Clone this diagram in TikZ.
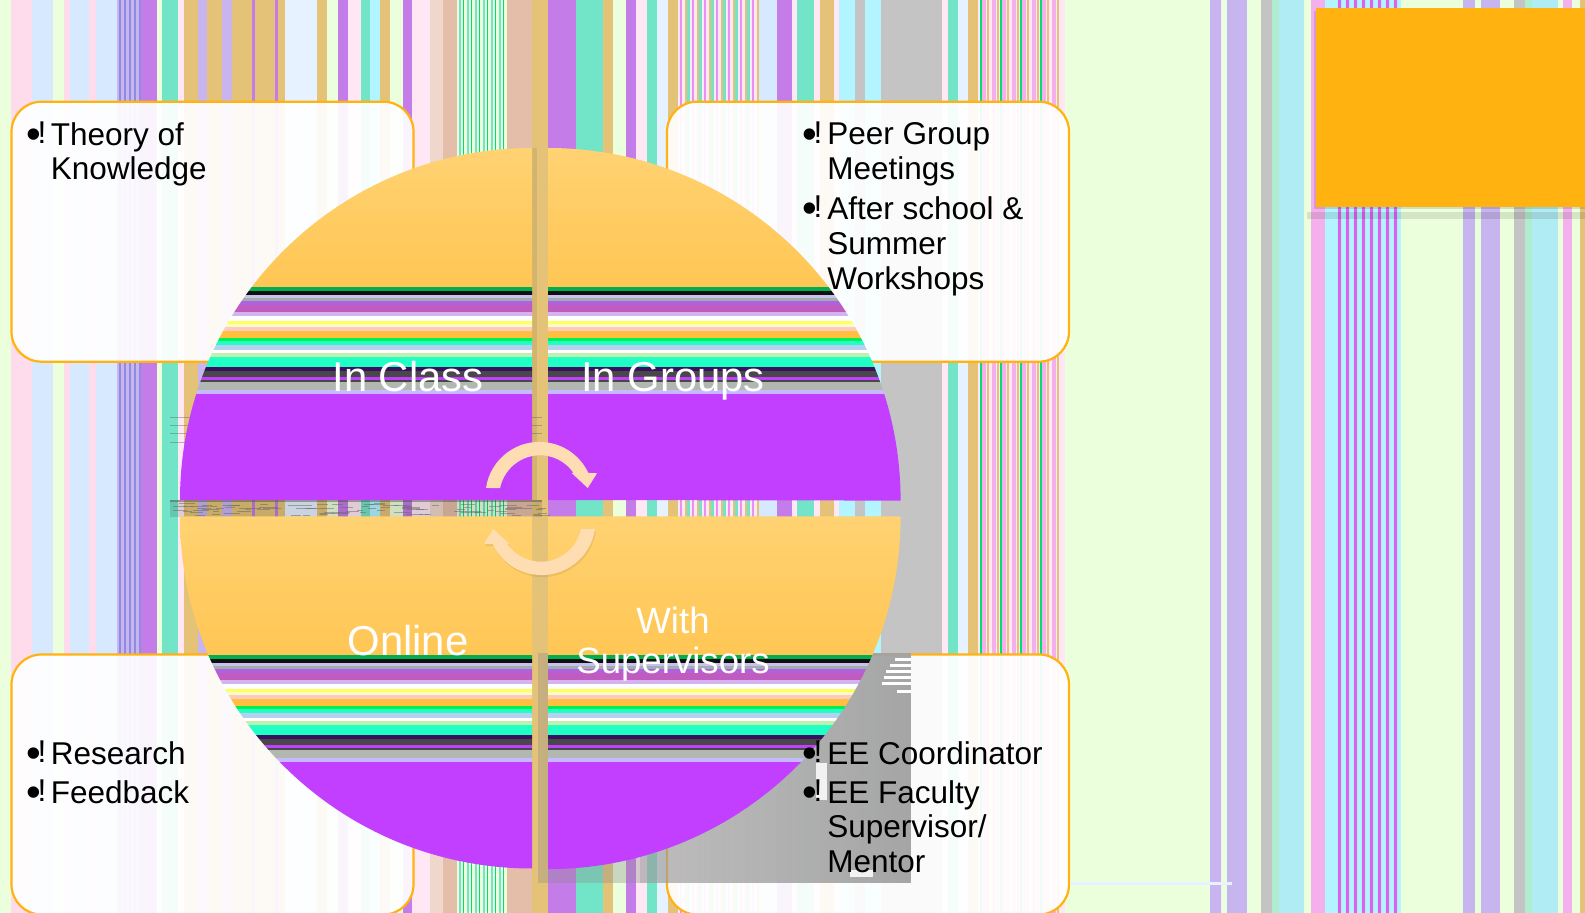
\documentclass[tikz,border=0pt]{standalone}
\usepackage{fontspec}
\setmainfont{Liberation Sans}
\usepackage{tikz}
\usetikzlibrary{positioning, calc, fadings}
\definecolor{bandlime}{HTML}{EBFFDC}
\definecolor{bandpink}{HTML}{FFDCEC}
\definecolor{bandpale}{HTML}{FFE8F4}
\definecolor{bandsky}{HTML}{D6E9FF}
\definecolor{bandice}{HTML}{E6F2FF}
\definecolor{bandblue}{HTML}{8C8CE0}
\definecolor{bandplum}{HTML}{C47CE8}
\definecolor{bandteal}{HTML}{72E4C8}
\definecolor{bandtan}{HTML}{E4C278}
\definecolor{bandpeach}{HTML}{E4BEA8}
\definecolor{bandcyan}{HTML}{B2F4FF}
\definecolor{bandgray}{HTML}{C4C4C4}
\definecolor{bandlav}{HTML}{C8B4EE}
\definecolor{bandmint}{HTML}{B0ECD0}
\definecolor{bandaqua}{HTML}{B0ECF4}
\definecolor{bandrose}{HTML}{F4B0EC}
\definecolor{bandmag}{HTML}{E060F0}
\definecolor{bandgreen}{HTML}{00E070}
\definecolor{boxorange}{HTML}{FFB210}
\definecolor{topamber}{HTML}{FFD272}
\definecolor{lowamber}{HTML}{FFC654}
\definecolor{violet}{HTML}{C23FFF}
\definecolor{arrowcream}{HTML}{FFDDB2}
\definecolor{s1}{HTML}{00B050}
\definecolor{s2}{HTML}{101010}
\definecolor{s3}{HTML}{C8C0F0}
\definecolor{s4}{HTML}{A0B0A8}
\definecolor{s5}{HTML}{B060E0}
\definecolor{s6}{HTML}{C05CC0}
\definecolor{s7}{HTML}{D4B4F0}
\definecolor{s8}{HTML}{FFFF60}
\definecolor{s9}{HTML}{F4FFC0}
\definecolor{s10}{HTML}{FFC8C0}
\definecolor{s11}{HTML}{FFC040}
\definecolor{s12}{HTML}{00F050}
\definecolor{s13}{HTML}{20FFC4}
\definecolor{s14}{HTML}{B8D0F0}
\definecolor{s15}{HTML}{C0F0B0}
\definecolor{s16}{HTML}{3C1060}
\definecolor{s17}{HTML}{484848}
\definecolor{s18}{HTML}{B0B8B0}
\definecolor{s19}{HTML}{C8B8FF}
\tikzfading[name=ghostfade, left color=transparent!55, right color=transparent!5]
\tikzset{
infobox/.style={%
    rectangle,
    minimum width=201pt,
    minimum height=130pt,
    rounded corners=15pt,
    draw=boxorange,
    line width=1.1pt,
    fill=white,
    fill opacity=.93,
    draw opacity=1,
},
itemtext/.style={%
    inner sep=0pt,
    anchor=north west,
    align=left,
    font=\fontsize{15.75}{17.35}\selectfont,
},
bulletmark/.style={%
    inner sep=0pt,
    anchor=base west,
    font=\fontsize{15.75}{17.35}\selectfont,
},
sectorlabel/.style={%
    text=white,
    align=center,
    font=\fontsize{20.9}{24}\selectfont,
},
smalllabel/.style={%
    sectorlabel,
    font=\fontsize{18.3}{20}\selectfont,
},
}
\newcommand{\sectorbands}[1]{%
    \shade[top color=topamber,bottom color=lowamber] (170,148+#1) rectangle (920,287.5+#1);
    \foreach \ya/\yb/\col in {287.5/291/s1,291/295/s2,295/298/s3,298/301/s4,301/305/s5,305/312/s6,
        312/316/s7,316/321/white,321/324/s8,324/327/s9,327/331/s10,331/338/s11,338/341/s12,
        341/345/s13,345/350/s14,350/353/white,353/357/s15,357/367/s13,367/371/s16,371/377/s17,
        377/380/violet,380/382/s17,382/390/s18,390/394/s19,394/520/violet}
        \fill[\col] (170,\ya+#1) rectangle (920,\yb+#1);
}
\begin{document}
\begin{tikzpicture}[x=0.5pt,y=0.5pt,yscale=-1]
	\useasboundingbox (0,0) rectangle (1585,913);
	% background bands
	\fill[bandpale] (0,0) rectangle (1585,913);
	\foreach \xa/\xb/\col in {0/11/bandlime,11/32/bandpink,32/53/bandsky,53/64/bandlime,64/70/bandpink,
		70/89/bandsky,89/96/bandpink,96/117/bandsky,117/141/bandlav,141/157/bandplum,157/162/bandlime,
		162/178/bandteal,184/198/bandtan,198/207/bandlav,207/222/bandtan,222/232/bandlav,232/252/bandtan,
		252/255/bandplum,255/275/bandtan,275/278/bandplum,278/285/bandtan,285/317/bandice,317/327/bandtan,
		327/338/bandlime,338/348/bandplum,361/370/bandteal,370/380/bandcyan,380/390/bandtan,390/403/bandlime,
		403/412/bandplum,430/443/bandpeach!60,443/457/bandpeach,457/507/bandlime,507/532/bandpeach,532/548/bandtan,
		548/576/bandplum,576/603/bandteal,603/613/bandtan,613/626/bandlime,626/636/bandplum,647/657/bandteal,
		657/668/bandice,668/678/bandtan,757/777/bandsky,777/792/bandplum,797/814/bandteal,820/834/bandtan,
		839/855/bandcyan,855/865/bandgray,865/881/bandcyan,881/942/bandgray,948/958/bandteal,958/968/bandice,
		968/978/bandtan,1065/1210/bandlime,1210/1221/bandlav,1222/1227/bandlime,1227/1247/bandlav,
		1247/1261/bandlime,1261/1272/bandgray,1272/1279/bandmint,1279/1304/bandaqua,1304/1311/bandlime,
		1311/1325/bandrose,1325/1337/bandcyan,1337/1401/bandaqua,1401/1463/bandlime,1463/1475/bandlav,
		1475/1481/bandlime,1481/1500/bandlav,1500/1514/bandlime,1514/1525/bandgray,1525/1532/bandmint,
		1532/1558/bandaqua,1558/1563/bandlime,1563/1572/bandrose,1572/1580/bandlime,1580/1585/bandtan}
		\fill[\col] (\xa,0) rectangle (\xb,913);
	% thin stripes
	\foreach \xa in {119,124,...,139} \fill[bandblue] (\xa,0) rectangle ++(1.5,913);
	\foreach \xa in {459,467,...,505} \fill[bandteal] (\xa,0) rectangle ++(2,913);
	\foreach \xa in {463,471,...,505} \fill[bandgreen] (\xa,0) rectangle ++(1,913);
	\foreach \xa in {680,692,...,752} \fill[bandmag!70] (\xa,0) rectangle ++(2,913);
	\foreach \xa in {686,698,...,752} \fill[bandteal] (\xa,0) rectangle ++(4,913);
	\foreach \xa in {678,690,...,752} \fill[bandtan] (\xa+7,0) rectangle ++(2,913);
	\foreach \xa in {982,992,...,1060} \fill[bandrose] (\xa,0) rectangle ++(4,913);
	\foreach \xa in {987,997,...,1060} \fill[bandtan] (\xa,0) rectangle ++(2,913);
	\foreach \xa in {980,1000,...,1040} \fill[bandgreen] (\xa,0) rectangle ++(1.5,913);
	\foreach \xa in {1338,1346,...,1400} \fill[bandmag] (\xa,0) rectangle ++(2.5,913);
	\foreach \xa in {1342,1350,...,1400} \fill[bandcyan] (\xa,0) rectangle ++(3,913);
	\foreach \xa in {1210,1220,1227,1237,1463,1474,1481,1491} \fill[bandblue!60] (\xa,0) rectangle ++(1.2,913);

	% orange block
	\fill[black,opacity=.1] (1307,212) rectangle (1585,219);
	\fill[black,opacity=.12] (1314,11) rectangle (1585,209);
	\node[inner sep=0pt,minimum width=134.5pt,minimum height=99.5pt,fill=boxorange] (block) at (1450.5,107.5) {};

	% rounded boxes
	\node[infobox] (classbox) at (212.5,231.7) {};
	\node[infobox] (groupbox) at (868,231.7) {};
	\node[infobox] (onlinebox) at (212.5,784.5) {};
	\node[infobox] (superbox) at (868,784.5) {};

	% grey ghost behind the lower right part
	\fill[black!45,opacity=.35] (538,653) rectangle (911,883);
	\fill[black!36,path fading=ghostfade] (640,653) rectangle (911,883);
	\foreach \ya/\xa in {658/895,664/890,670/886,676/884,682/882,690/897} \fill[white] (\xa,\ya) rectangle (911,\ya+3);
	\fill[white,opacity=.85] (816,763) rectangle (827,800);
	\fill[white,opacity=.85] (850,870) rectangle (873,877);
	\fill[bandice] (1070,881.5) rectangle (1232,884.5);

	% glitch strip left of the centre
	\fill[black,opacity=.12] (170,500) rectangle (542,517);
	\fill[black!70,opacity=.45] (170,500) rectangle (542,502);
	\pgfmathsetseed{42}
	\foreach \n in {1,...,90} {
		\pgfmathsetmacro{\gx}{170+370*rnd}
		\pgfmathsetmacro{\gy}{503+12*rnd}
		\fill[black!60,opacity=.5] (\gx,\gy) rectangle ++(5+14*rnd,1);
	}
	\foreach \ya in {417,425,433,442} {
		\fill[black!60,opacity=.45] (170,\ya) rectangle (190,\ya+1);
		\fill[black!60,opacity=.45] (532,\ya) rectangle (542,\ya+1);
	}
	\fill[black,opacity=.07] (532,148) rectangle (537,500);

	% quarter discs
	\begin{scope}
		\clip (532,500) -- (180,500) arc (180:270:352) -- cycle;
		\sectorbands{0}
	\end{scope}
	\begin{scope}
		\clip (548,500) -- (548,148) arc (270:360:352.6) -- cycle;
		\sectorbands{0}
	\end{scope}
	\begin{scope}
		\clip (532,516.5) -- (532,868.5) arc (90:180:352) -- cycle;
		\sectorbands{368}
	\end{scope}
	\begin{scope}
		\clip (548,516.5) -- (900.6,516.5) arc (0:90:352.6) -- cycle;
		\sectorbands{368}
	\end{scope}

	% cycle arrows
	\foreach \r/\shadow in {0/0,180/1} {
		\begin{scope}[rotate around={\r:(540.5,508.5)}]
			\ifnum\shadow=1
				\fill[black,opacity=.07] (485,486) arc (188.4:334.8:54) -- (596,471) -- (586.7,486) -- (570.7,471) -- (572.6,471) arc (325.6:191.3:40.7) -- cycle;
			\fi
			\fill[arrowcream] (486,488) arc (188.4:334.8:54) -- (597,473.3) -- (587.7,488) -- (571.7,473) -- (573.6,473) arc (325.6:191.3:40.7) -- cycle;
		\end{scope}
	}

	% labels
	\node[sectorlabel,anchor=base] (inclass) at (408,392) {In Class};
	\node[sectorlabel,anchor=base] (ingroups) at (673,392) {In Groups};
	\node[sectorlabel,anchor=base] (online) at (408,656) {Online};
	\node[smalllabel] (withsuper) at (673,644.5) {With\\Supervisors};

	\node[itemtext] (theory) at (50.5,122) {Theory of\\Knowledge};
	\node[itemtext] (peer) at (827,122.5) {Peer Group\\Meetings};
	\node[itemtext] (after) at (827,196.5) {After school \&\\Summer\\Workshops};
	\node[itemtext] (research) at (50.5,741.5) {Research};
	\node[itemtext] (feedback) at (50.5,780) {Feedback};
	\node[itemtext] (coord) at (827,741.5) {EE Coordinator};
	\node[itemtext] (faculty) at (827,780) {EE Faculty\\Supervisor/\\Mentor};

	\foreach \nm/\bx/\by in {btheory/26/144,bpeer/802/144,bafter/802/218,bresearch/26/763,bfeedback/26/802,bcoord/802/763,bfaculty/802/802}
		\node[bulletmark] (\nm) at (\bx,\by) {\raisebox{-2.3pt}{\fontsize{21}{21}\selectfont •}\kern-1.8pt!};
\end{tikzpicture}
\end{document}
